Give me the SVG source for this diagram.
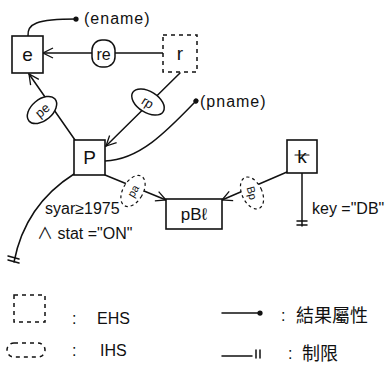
<svg xmlns="http://www.w3.org/2000/svg" width="391" height="367" viewBox="0 0 391 367">
<defs>
<style>
.ln{fill:none;stroke:#111;stroke-width:1.5;stroke-linecap:round}
.box{fill:#fff;stroke:#111;stroke-width:1.6}
.dbox{fill:#fff;stroke:#111;stroke-width:1.5;stroke-dasharray:4 4}
.ell{fill:#fff;stroke:#111;stroke-width:1.5}
.dell{fill:#fff;stroke:#111;stroke-width:1.2;stroke-dasharray:3 3}
text{font-family:"Liberation Sans","Noto Sans CJK TC",sans-serif;fill:#111}
.nl{font-size:19px;text-anchor:middle}
.rl{font-size:13px;text-anchor:middle}
.at{font-size:16px}
.lg{font-size:16px}
</style>
<marker id="arr" viewBox="0 0 12 12" refX="11" refY="6" markerWidth="12" markerHeight="12" markerUnits="userSpaceOnUse" orient="auto">
<path d="M1 1 L11 6 L1 11" fill="none" stroke="#111" stroke-width="1.3"/>
</marker>
<marker id="dot" viewBox="0 0 8 8" refX="4" refY="4" markerWidth="6" markerHeight="6" markerUnits="userSpaceOnUse" orient="auto">
<circle cx="4" cy="4" r="3.5" fill="#111"/>
</marker>
</defs>
<rect width="391" height="367" fill="#fff"/>
<g id="connectors">
<path class="ln" d="M163 53 L43 53" marker-end="url(#arr)"/>
<path class="ln" d="M75 140 L29 74" marker-end="url(#arr)"/>
<path class="ln" d="M180 73 L106 146" marker-end="url(#arr)"/>
<path class="ln" d="M105 175 L166 200" marker-end="url(#arr)"/>
<path class="ln" d="M287 172 L222 200" marker-end="url(#arr)"/>
<path class="ln" d="M28 36 C27 24 36 19 76 19" marker-end="url(#dot)"/>
<path class="ln" d="M105 161 C140 160 168 130 196 101" marker-end="url(#dot)"/>
<path class="ln" d="M74 174 Q25 205 14 262"/>
<path class="ln" d="M8 256 L19 259 M8 260 L19 263"/>
<path class="ln" d="M302 173 L302 226"/>
<path class="ln" d="M297 221 L307 221 M297 225 L307 225"/>
</g>
<g id="rel-re">
<rect class="ell" x="92" y="40" width="23" height="27" rx="10"/>
<text class="nl" x="103.5" y="60" style="font-size:16px">re</text>
</g>
<g id="rel-pe">
<ellipse class="ell" cx="42" cy="110" rx="17" ry="10.5" transform="rotate(-40 42 110)"/>
<text class="rl" x="42" y="115" transform="rotate(-40 42 110)">pe</text>
</g>
<g id="rel-rp">
<ellipse class="ell" cx="148" cy="102" rx="18" ry="10.5" transform="rotate(32 148 102)"/>
<text class="rl" x="148" y="107" transform="rotate(32 148 102)">rp</text>
</g>
<g id="rel-pb">
<ellipse class="dell" cx="133" cy="191" rx="10" ry="17" transform="rotate(30 133 191)"/>
<text class="rl" x="133" y="195" style="font-size:11px" transform="rotate(-60 133 191)">pa</text>
</g>
<g id="rel-kb">
<ellipse class="dell" cx="252" cy="193" rx="10" ry="17" transform="rotate(-25 252 193)"/>
<text class="rl" x="252" y="197" style="font-size:11px" transform="rotate(75 252 193)">Bp</text>
</g>
<g id="node-e">
<rect class="box" x="12" y="36" width="31" height="37"/>
<text class="nl" x="27.5" y="61">e</text>
</g>
<g id="node-r">
<rect class="dbox" x="163" y="35" width="34" height="37"/>
<text class="nl" x="180" y="60">r</text>
</g>
<g id="node-p">
<rect class="box" x="74" y="140" width="31" height="35"/>
<text class="nl" x="89.5" y="164">P</text>
</g>
<g id="node-k">
<rect class="box" x="287" y="140" width="30" height="33"/>
<text class="nl" x="302" y="163">k</text>
<path class="ln" d="M295 155 L309 155" style="stroke-width:1.1"/>
</g>
<g id="node-pbl">
<rect class="box" x="166" y="199" width="56" height="30"/>
<text class="nl" x="194" y="220" style="font-size:17px">pBℓ</text>
</g>
<g id="labels">
<text class="at" x="84" y="24" style="letter-spacing:1px">(ename)</text>
<text class="at" x="200" y="107" style="letter-spacing:1px">(pname)</text>
<text class="at" x="45" y="214">syar≥1975</text>
<text class="at" x="37" y="239">∧ stat ="ON"</text>
<text class="at" x="312" y="214">key ="DB"</text>
</g>
<g id="legend">
<rect class="dbox" x="14" y="295" width="31" height="27"/>
<text class="lg" x="72" y="324">:</text>
<text class="lg" x="97" y="324">EHS</text>
<rect class="dbox" x="7" y="343" width="38" height="14" rx="7"/>
<text class="lg" x="72" y="356">:</text>
<text class="lg" x="100" y="356">IHS</text>
<path class="ln" d="M222 313 L260 313" marker-end="url(#dot)"/>
<text class="lg" x="281" y="321">:</text>
<text class="lg" x="296" y="322" style="font-size:18px">結果屬性</text>
<path class="ln" d="M222 356 L252 356 M256 350 L256 358 M260 350 L260 358"/>
<text class="lg" x="288" y="359">:</text>
<text class="lg" x="302" y="360" style="font-size:18px">制限</text>
</g>
</svg>
